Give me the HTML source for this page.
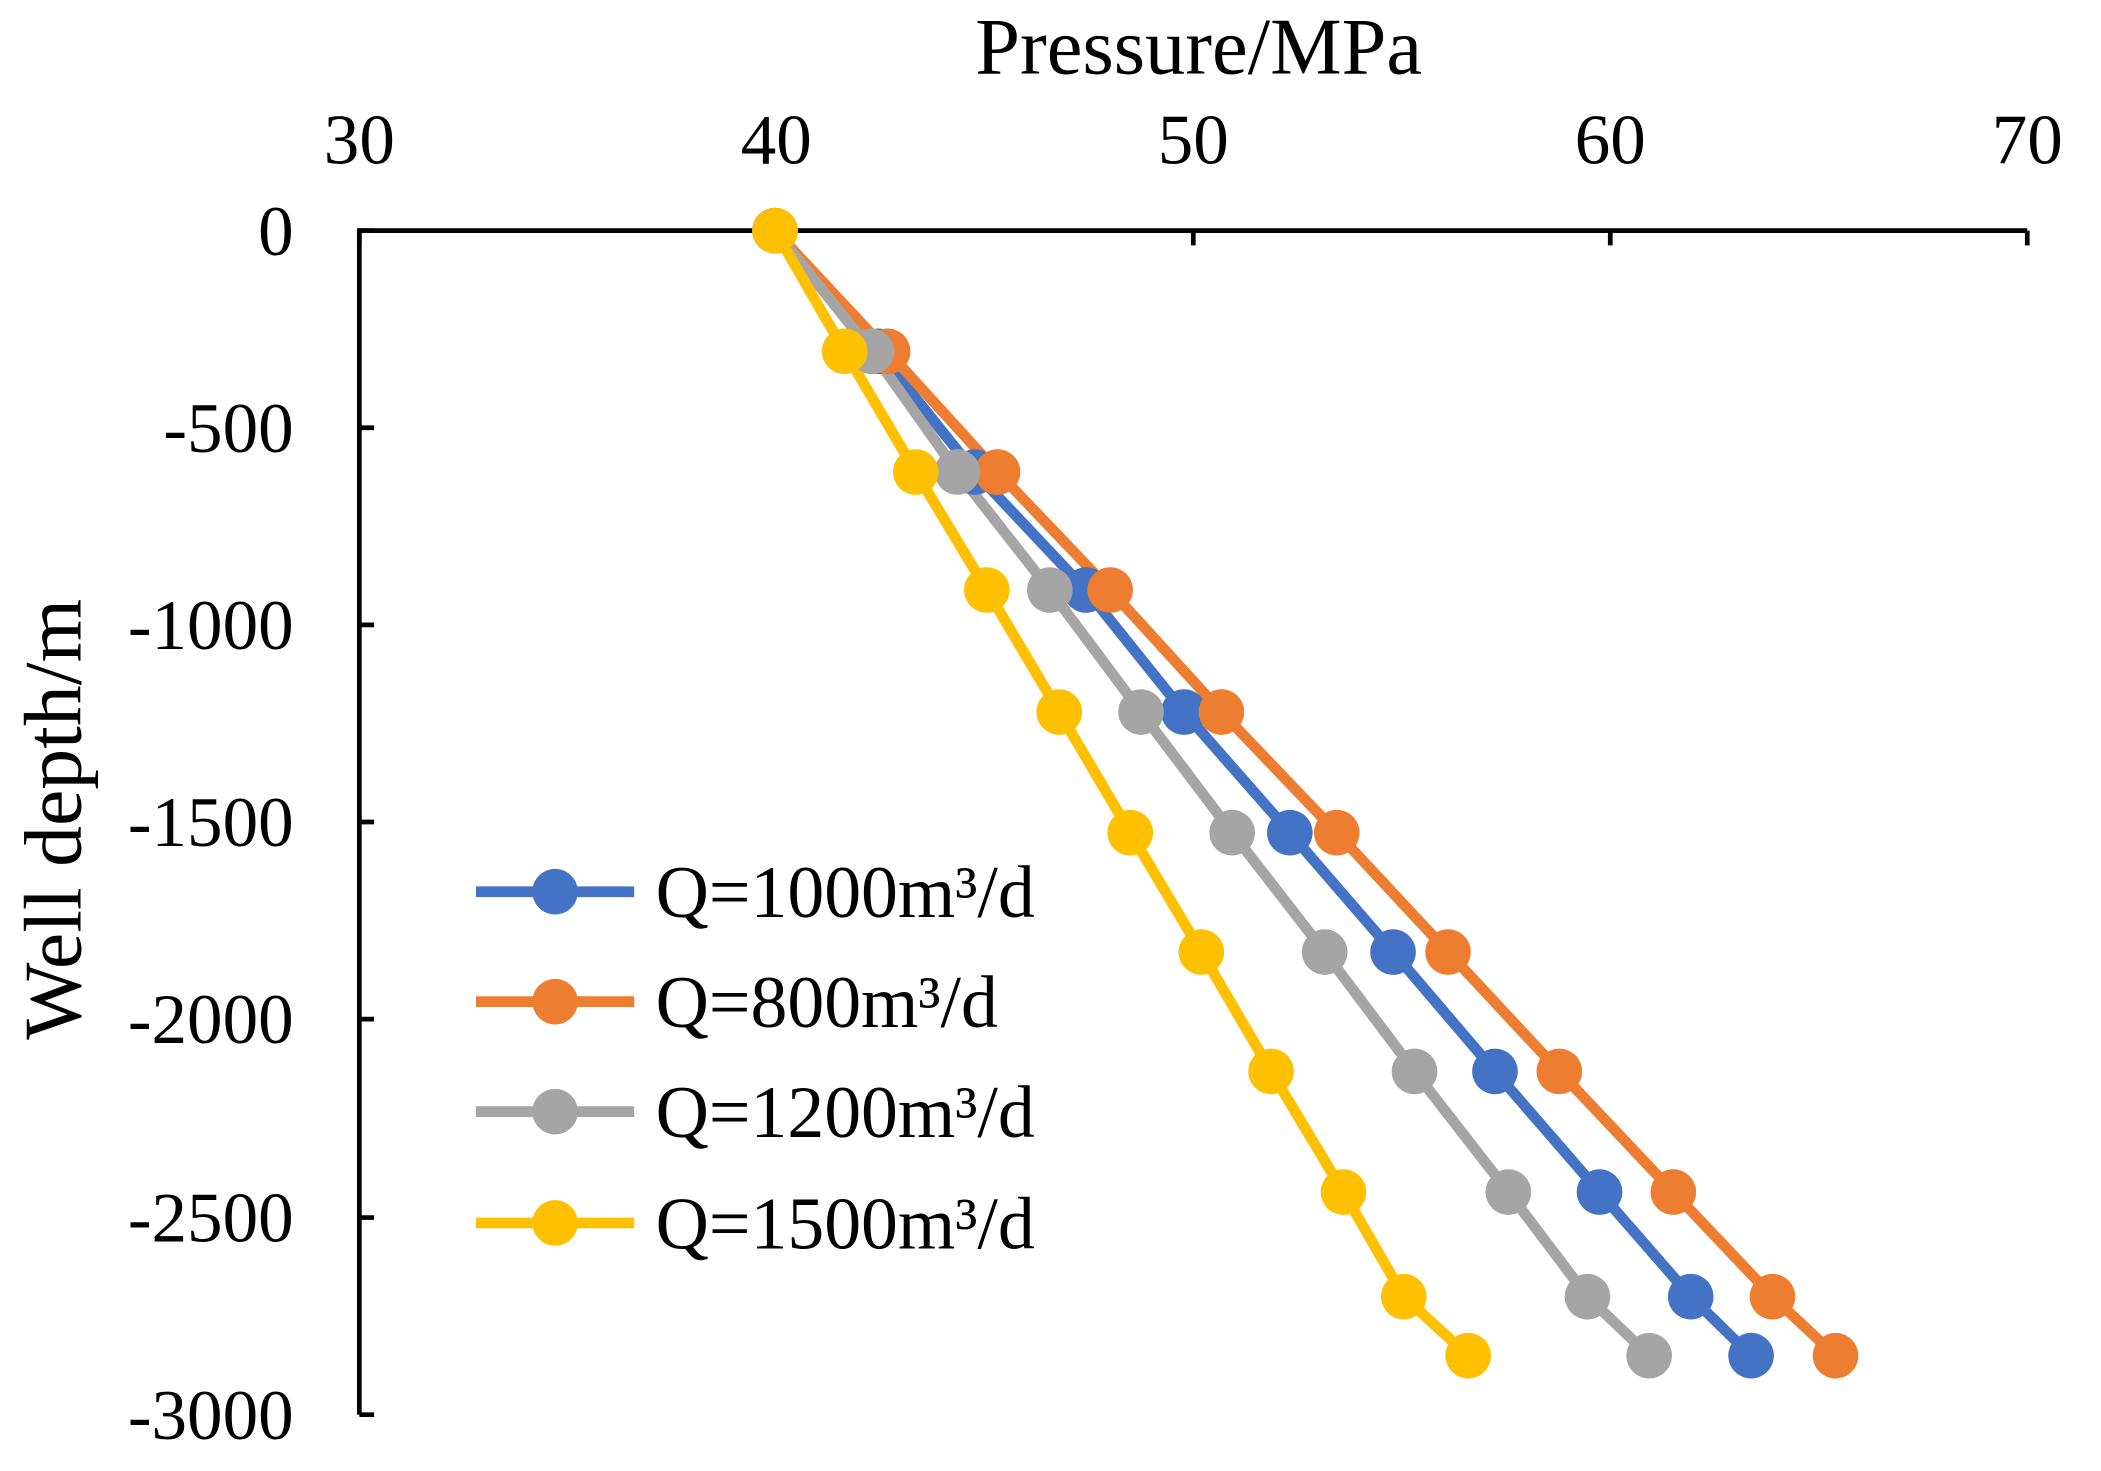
<!DOCTYPE html>
<html><head><meta charset="utf-8"><style>html,body{margin:0;padding:0;background:#fff}svg{display:block}</style></head>
<body>
<svg width="2101" height="1471" viewBox="0 0 1567 1097" preserveAspectRatio="none" xmlns="http://www.w3.org/2000/svg" font-family="Liberation Serif, serif">
<rect width="1567" height="1097" fill="#fff"/>
<g stroke="#000" stroke-width="3.5" fill="none">
<path d="M268 1055 V172 H1512"/>
<path d="M268 172 V183 M579 172 V183 M890 172 V183 M1201 172 V183 M1512 172 V183"/>
<path d="M268 172 H279 M268 319 H279 M268 466 H279 M268 613 H279 M268 760 H279 M268 908 H279 M268 1055 H279"/>
</g>
<g font-size="53" text-anchor="middle" fill="#000">
<text x="268" y="122">30</text><text x="579" y="122">40</text><text x="890" y="122">50</text><text x="1201" y="122">60</text><text x="1512" y="122">70</text>
</g>
<g font-size="53" text-anchor="end" fill="#000">
<text x="219" y="190">0</text><text x="219" y="337">-500</text><text x="219" y="484">-1000</text><text x="219" y="631">-1500</text><text x="219" y="778">-2000</text><text x="219" y="926">-2500</text><text x="219" y="1073">-3000</text>
</g>
<text x="894" y="55" font-size="60" text-anchor="middle">Pressure/MPa</text>
<text transform="translate(60,611) rotate(-90)" font-size="61" text-anchor="middle">Well depth/m</text>
<g fill="none" stroke-width="8" stroke-linejoin="round">
<polyline stroke="#4472C4" points="578,172 655,262 727,352 810,440 883,531 962,621 1039,710 1115,799 1193,889 1261,967 1306,1011"/>
<polyline stroke="#ED7D31" points="578,172 662,262 744,352 828,440 911,531 997,621 1080,710 1163,799 1248,889 1322,967 1369,1011"/>
<polyline stroke="#A5A5A5" points="578,172 650,262 714,352 783,440 851,531 919,621 988,710 1055,799 1125,889 1184,967 1230,1011"/>
<polyline stroke="#FFC000" points="578,172 630,262 683,352 736,440 790,531 843,621 896,710 948,799 1002,889 1047,967 1095,1011"/>
</g>
<g fill="#4472C4"><circle cx="578" cy="172" r="17"/><circle cx="655" cy="262" r="17"/><circle cx="727" cy="352" r="17"/><circle cx="810" cy="440" r="17"/><circle cx="883" cy="531" r="17"/><circle cx="962" cy="621" r="17"/><circle cx="1039" cy="710" r="17"/><circle cx="1115" cy="799" r="17"/><circle cx="1193" cy="889" r="17"/><circle cx="1261" cy="967" r="17"/><circle cx="1306" cy="1011" r="17"/></g>
<g fill="#ED7D31"><circle cx="578" cy="172" r="17"/><circle cx="662" cy="262" r="17"/><circle cx="744" cy="352" r="17"/><circle cx="828" cy="440" r="17"/><circle cx="911" cy="531" r="17"/><circle cx="997" cy="621" r="17"/><circle cx="1080" cy="710" r="17"/><circle cx="1163" cy="799" r="17"/><circle cx="1248" cy="889" r="17"/><circle cx="1322" cy="967" r="17"/><circle cx="1369" cy="1011" r="17"/></g>
<g fill="#A5A5A5"><circle cx="578" cy="172" r="17"/><circle cx="650" cy="262" r="17"/><circle cx="714" cy="352" r="17"/><circle cx="783" cy="440" r="17"/><circle cx="851" cy="531" r="17"/><circle cx="919" cy="621" r="17"/><circle cx="988" cy="710" r="17"/><circle cx="1055" cy="799" r="17"/><circle cx="1125" cy="889" r="17"/><circle cx="1184" cy="967" r="17"/><circle cx="1230" cy="1011" r="17"/></g>
<g fill="#FFC000"><circle cx="578" cy="172" r="17"/><circle cx="630" cy="262" r="17"/><circle cx="683" cy="352" r="17"/><circle cx="736" cy="440" r="17"/><circle cx="790" cy="531" r="17"/><circle cx="843" cy="621" r="17"/><circle cx="896" cy="710" r="17"/><circle cx="948" cy="799" r="17"/><circle cx="1002" cy="889" r="17"/><circle cx="1047" cy="967" r="17"/><circle cx="1095" cy="1011" r="17"/></g>
<g stroke-width="8">
<line x1="355" y1="665" x2="473" y2="665" stroke="#4472C4"/><circle cx="414" cy="665" r="17" fill="#4472C4"/>
<line x1="355" y1="747" x2="473" y2="747" stroke="#ED7D31"/><circle cx="414" cy="747" r="17" fill="#ED7D31"/>
<line x1="355" y1="829" x2="473" y2="829" stroke="#A5A5A5"/><circle cx="414" cy="829" r="17" fill="#A5A5A5"/>
<line x1="355" y1="912" x2="473" y2="912" stroke="#FFC000"/><circle cx="414" cy="912" r="17" fill="#FFC000"/>
</g>
<g font-size="55" fill="#000">
<text x="489" y="684">Q=1000m³/d</text>
<text x="489" y="766">Q=800m³/d</text>
<text x="489" y="848">Q=1200m³/d</text>
<text x="489" y="931">Q=1500m³/d</text>
</g>
</svg>
</body></html>
